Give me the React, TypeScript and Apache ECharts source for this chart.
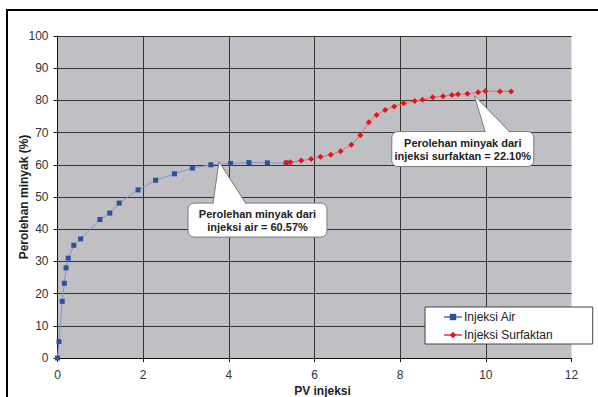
import React, { useEffect, useRef } from "react";
import * as echarts from "echarts";

const airData: [number, number][] = [
  [0, 0], [0.035, 5.1], [0.11, 17.6], [0.16, 23.2], [0.2, 28], [0.25, 31],
  [0.38, 35], [0.54, 37], [0.99, 43], [1.22, 45], [1.44, 48.1], [1.88, 52.2],
  [2.29, 55.2], [2.73, 57.2], [3.15, 59], [3.58, 60], [4.04, 60.4],
  [4.47, 60.7], [4.9, 60.6], [5.34, 60.57],
];

const surfData: [number, number][] = [
  [5.34, 60.6], [5.44, 60.8], [5.69, 61.3], [5.92, 61.8], [6.14, 62.5],
  [6.38, 63.1], [6.61, 64.2], [6.86, 66.2], [7.07, 69.2], [7.27, 73.2],
  [7.45, 75.5], [7.65, 77.0], [7.86, 78.1], [8.08, 79.1], [8.34, 79.8],
  [8.52, 80.2], [8.76, 81.0], [9.0, 81.3], [9.21, 81.7], [9.35, 81.9],
  [9.57, 82.1], [9.82, 82.5], [9.99, 82.9], [10.33, 82.8], [10.59, 82.8],
];

const seriesNames = ["Injeksi Air", "Injeksi Surfaktan"];
const yAxisTitle = "Perolehan minyak (%)";
const xAxisTitle = "PV injeksi";
const callout1Lines = ["Perolehan minyak dari", "injeksi air = 60.57%"];
const callout2Lines = ["Perolehan minyak dari", "injeksi surfaktan = 22.10%"];
const callout1Anchor: [number, number] = [3.77, 61];
const callout2Anchor: [number, number] = [9.73, 81.5];

const FONT = "'Liberation Sans', Arial, sans-serif";

function callout(
  apex: number[],
  box: { dx: number; dy: number; w: number; h: number },
  base: [number, number],
  lines: string[]
) {
  const bx = apex[0] + box.dx;
  const by = apex[1] + box.dy;
  const b0 = apex[0] + base[0];
  const b1 = apex[0] + base[1];
  const stroke = "#7a7a7a";
  return [
    {
      type: "rect",
      shape: { x: bx, y: by, width: box.w, height: box.h, r: 6 },
      style: { fill: "#ffffff", stroke, lineWidth: 1 },
      z: 100,
    },
    {
      type: "polygon",
      shape: { points: [[apex[0], apex[1]], [b0, by + 1.5], [b1, by + 1.5]] },
      style: { fill: "#ffffff", stroke: "none" },
      z: 101,
    },
    {
      type: "polyline",
      shape: { points: [[b0, by + 0.5], [apex[0], apex[1]], [b1, by + 0.5]] },
      style: { stroke, lineWidth: 1, fill: "none" },
      z: 102,
    },
    {
      type: "text",
      x: bx + box.w / 2,
      y: by + box.h / 2,
      style: {
        text: lines.join("\n"),
        fill: "#222222",
        font: `bold 11px ${FONT}`,
        align: "center",
        verticalAlign: "middle",
        lineHeight: 13,
      },
      z: 103,
    },
  ];
}

export default function App() {
  const ref = useRef<HTMLDivElement>(null);
  useEffect(() => {
    if (!ref.current) return;
    const chart = echarts.init(ref.current, undefined, { renderer: "svg" });
    chart.setOption({
      animation: false,
      backgroundColor: "#ffffff",
      textStyle: { fontFamily: FONT },
      grid: {
        left: 57.5,
        right: 26.5,
        top: 36,
        bottom: 39,
        show: true,
        backgroundColor: "#c0c0c4",
        borderWidth: 0,
        containLabel: false,
        outerBoundsMode: "none",
      },
      xAxis: {
        type: "value",
        min: 0,
        max: 12,
        interval: 2,
        name: xAxisTitle,
        nameLocation: "middle",
        nameGap: 27,
        nameMoveOverlap: false,
        nameTextStyle: {
          fontWeight: "bold",
          fontSize: 12,
          color: "#222",
          fontFamily: FONT,
          padding: [0, 0, 0, 16],
        },
        axisLine: { show: true, lineStyle: { color: "#111", width: 1 } },
        axisTick: { show: true, length: 4, lineStyle: { color: "#111" } },
        axisLabel: { color: "#333", fontSize: 12, margin: 11, fontFamily: FONT },
        splitLine: { show: true, showMaxLine: false, lineStyle: { color: "#333", width: 1 } },
      },
      yAxis: {
        type: "value",
        min: 0,
        max: 100,
        interval: 10,
        name: yAxisTitle,
        nameLocation: "middle",
        nameGap: 28,
        nameMoveOverlap: false,
        nameTextStyle: { fontWeight: "bold", fontSize: 12, color: "#222", fontFamily: FONT },
        axisLine: { show: true, lineStyle: { color: "#111", width: 1 } },
        axisTick: { show: true, length: 4, lineStyle: { color: "#111" } },
        axisLabel: { color: "#333", fontSize: 12, margin: 9, fontFamily: FONT },
        splitLine: { show: true, lineStyle: { color: "#333", width: 1 } },
      },
      legend: {
        orient: "vertical",
        left: 425,
        top: 307,
        width: 138,
        backgroundColor: "#ffffff",
        borderColor: "#444",
        borderWidth: 1,
        borderRadius: 0,
        padding: [4, 40, 3, 18],
        itemWidth: 18,
        itemHeight: 8,
        itemGap: 6,
        textStyle: { fontSize: 12, color: "#222", fontFamily: FONT, padding: [0, 0, 0, -3] },
        data: seriesNames,
      },
      series: [
        {
          name: seriesNames[0],
          type: "line",
          data: airData,
          symbol: "rect",
          symbolSize: 5,
          itemStyle: { color: "#2d4f9e" },
          lineStyle: { color: "#7d95cc", width: 1 },
          z: 3,
        },
        {
          name: seriesNames[1],
          type: "line",
          data: surfData,
          symbol: "diamond",
          symbolSize: 6,
          itemStyle: { color: "#e8141c" },
          lineStyle: { color: "#ee6a6a", width: 1 },
          z: 4,
        },
      ],
    });
    const a1 = chart.convertToPixel({ gridIndex: 0 }, callout1Anchor) as number[];
    const a2 = chart.convertToPixel({ gridIndex: 0 }, callout2Anchor) as number[];
    chart.setOption({
      graphic: [
        {
          type: "rect",
          shape: { x: 7, y: 10, width: 800, height: 600 },
          style: { fill: "none", stroke: "#000", lineWidth: 2 },
          silent: true,
        },
        ...callout(a1, { dx: -31, dy: 41.5, w: 139, h: 34 }, [-6, 27], callout1Lines),
        ...callout(a2, { dx: -82.5, dy: 36, w: 142, h: 35 }, [11, 36], callout2Lines),
      ],
    });
    return () => chart.dispose();
  }, []);
  return <div ref={ref} style={{ width: 598, height: 397, position: "absolute", left: 0, top: 0 }} />;
}
